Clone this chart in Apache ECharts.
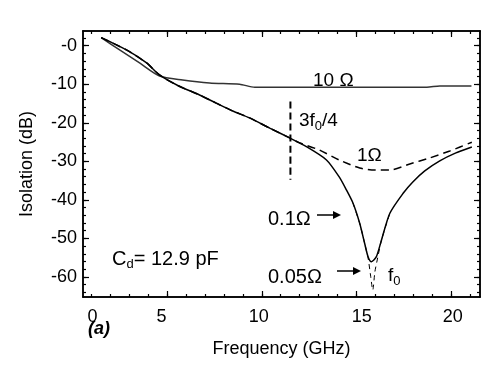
<!DOCTYPE html>
<html><head><meta charset="utf-8">
<script src="https://cdn.jsdelivr.net/npm/echarts@6/dist/echarts.min.js"></script>
<style>html,body{margin:0;padding:0;background:#fff}#c{width:497px;height:368px}</style>
</head><body><div id="c"></div>
<script>
// ---- axis ticks / labels ----
const xTickLabels = ['0', '5', '10', '15', '20'];
const xTickLabelPos = [1.08, 4.72, 9.84, 15.27, 20.07];
const xMajorTicks = [5, 10, 15, 20];
const xMinorTicks = [1,2,3,4,5,6,7,8,9,10,11,12,13,14,15,16,17,18,19,20,21];
const yTickValues = [0, -10, -20, -30, -40, -50, -60];
const yTickLabels = ['-0', '-10', '-20', '-30', '-40', '-50', '-60'];
const yMinorTicks = [2,0,-2,-4,-6,-8,-10,-12,-14,-16,-18,-20,-22,-24,-26,-28,-30,-32,-34,-36,-38,-40,-42,-44,-46,-48,-50,-52,-54,-56,-58,-60,-62,-64];

// ---- series values (GHz, dB) ----
const f10 = [1.54, 2.51, 3.56, 4.61, 5.83, 7.25, 8.83, 9.63, 12.0, 14.1, 16.5, 18.7, 19.38, 21.05];
const v10 = [2.08, -1.12, -4.49, -7.86, -8.9, -9.68, -10.0, -10.8, -10.8, -10.8, -10.8, -10.8, -10.45, -10.45];

const f1 = [1.54, 2.87, 3.93, 4.61, 5.6, 6.72, 7.6, 8.47, 9.36, 10.42, 11.47, 11.97, 13.03, 14.08, 15.16, 15.96, 16.75, 17.8, 18.85, 19.91, 21.07];
const v1 = [2.08, -1.12, -4.49, -7.6, -10.4, -12.79, -14.9, -16.94, -18.75, -21.4, -23.94, -25.16, -27.06, -29.65, -31.73, -32.24, -32.24, -30.69, -29.13, -27.32, -25.06];

const f01 = [1.54, 2.87, 3.93, 4.61, 5.6, 6.72, 7.6, 8.47, 9.36, 10.42, 11.47, 12.35, 13.41, 14.08, 14.46, 14.81, 15.16, 15.42, 15.6, 15.78, 16.04, 16.31, 16.75, 17.45, 17.96, 18.59, 19.38, 20.23, 21.07];
const v01 = [2.08, -1.12, -4.49, -7.6, -10.4, -12.79, -14.9, -16.94, -18.75, -21.4, -23.94, -26.2, -29.65, -34.06, -37.43, -40.88, -46.07, -51.26, -54.73, -56.03, -54.73, -50.4, -43.48, -38.29, -35.36, -32.5, -29.9, -27.83, -26.29];

const f005 = [14.81, 15.16, 15.42, 15.6, 15.73, 15.85, 15.96, 16.11, 16.31, 16.75];
const v005 = [-40.88, -46.07, -51.26, -55.0, -59.5, -63.4, -58.7, -55.0, -50.4, -43.48];

const fMark = [11.51, 11.51];
const vMark = [-14.5, -34.8];

const zip = (a, b) => a.map((x, i) => [x, b[i]]);

const FONT = 'Liberation Sans';
const X_MIN = 0.58, X_MAX = 21.5, Y_MIN = -65.2, Y_MAX = 3.8;
const axisLine = { show: true, onZero: false, lineStyle: { color: '#000', width: 1.5 } };

function xAxis(pos, ticks, len, labels) {
  return {
    type: 'value', position: pos, min: X_MIN, max: X_MAX,
    axisLine: axisLine,
    axisTick: { show: true, inside: true, length: len, customValues: ticks, lineStyle: { color: '#000', width: 1.2 } },
    axisLabel: labels ? {
      show: true, customValues: xTickLabelPos,
      formatter: v => xTickLabels[xTickLabelPos.indexOf(v)],
      fontSize: 18, margin: 11, color: '#000', fontFamily: FONT
    } : { show: false },
    splitLine: { show: false },
    name: labels ? 'Frequency (GHz)' : '', nameLocation: 'middle', nameGap: 43,
    nameTextStyle: { fontSize: 18, color: '#000', fontFamily: FONT }
  };
}
function yAxis(pos, ticks, len, labels) {
  return {
    type: 'value', position: pos, min: Y_MIN, max: Y_MAX,
    axisLine: axisLine,
    axisTick: { show: true, inside: true, length: len, customValues: ticks, lineStyle: { color: '#000', width: 1.2 } },
    axisLabel: labels ? {
      show: true, customValues: yTickValues,
      formatter: v => yTickLabels[yTickValues.indexOf(v)],
      fontSize: 18, margin: 6, color: '#000', fontFamily: FONT
    } : { show: false },
    splitLine: { show: false },
    name: labels ? 'Isolation (dB)' : '', nameLocation: 'middle', nameGap: 47,
    nameTextStyle: { fontSize: 18, color: '#000', fontFamily: FONT }
  };
}

const chart = echarts.init(document.getElementById('c'), null, { renderer: 'canvas' });
const line = (name, f, v, color, width, type, z) => ({
  name, type: 'line', data: zip(f, v), xAxisIndex: 0, yAxisIndex: 0,
  symbol: 'none', smooth: 0.25, z: z || 2,
  lineStyle: { color, width, type }
});

const arrow = (x1, x2, y) => ({
  type: 'group', children: [
    { type: 'line', shape: { x1, y1: y, x2: x2 - 6, y2: y }, style: { stroke: '#000', lineWidth: 1.5 } },
    { type: 'polygon', shape: { points: [[x2, y], [x2 - 8, y - 4], [x2 - 8, y + 4]] }, style: { fill: '#000' } }
  ]
});
const txt = (left, top, text, size, extra) => ({
  type: 'text', left, top,
  style: Object.assign({ text, fontSize: size, fontFamily: FONT, fill: '#000',
    rich: { sub: { fontSize: 13, fontFamily: FONT, fill: '#000', padding: [11, 0, 0, 0] } } }, extra || {})
});

chart.setOption({
  animation: false,
  backgroundColor: '#fff',
  grid: { left: 83, right: 17, top: 31, bottom: 71 },
  xAxis: [
    xAxis('bottom', xMajorTicks, 6, true),
    xAxis('bottom', xMinorTicks, 3, false),
    xAxis('top', xMajorTicks, 6, false),
    xAxis('top', xMinorTicks, 3, false)
  ],
  yAxis: [
    yAxis('left', yTickValues, 6, true),
    yAxis('left', yMinorTicks, 3, false),
    yAxis('right', yTickValues, 6, false),
    yAxis('right', yMinorTicks, 3, false)
  ],
  series: [
    line('10 Ω', f10, v10, '#333', 1.5, 'solid'),
    line('0.1 Ω', f01, v01, '#000', 1.5, 'solid'),
    line('1 Ω', f1, v1, '#000', 1.5, [8, 5], 3),
    line('0.05 Ω', f005, v005, '#000', 1, [5, 4], 3),
    line('3f0/4', fMark, vMark, '#000', 2, [7, 4], 3)
  ],
  graphic: [
    txt(313, 71, '10 Ω', 19),
    txt(299, 111, '3f{sub|0}/4', 19),
    txt(357, 146, '1Ω', 19),
    txt(268, 209, '0.1Ω', 20),
    arrow(317, 341, 215),
    txt(268, 267, '0.05Ω', 20),
    arrow(337, 361, 271),
    txt(388, 266, 'f{sub|0}', 19),
    txt(112, 249, 'C{sub|d}= 12.9 pF', 20),
    txt(88, 320, '(a)', 18, { fontWeight: 'bold', fontStyle: 'italic' })
  ]
});
</script>
</body></html>
